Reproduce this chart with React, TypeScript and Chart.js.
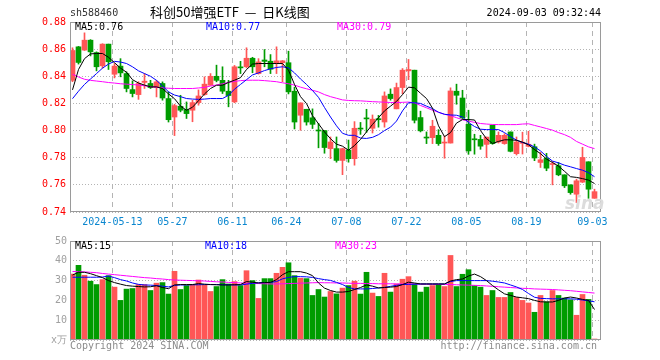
import React, { useEffect, useRef } from 'react';
import { Chart, registerables } from 'chart.js';

Chart.register(...registerables);

const dates = [
  '2024-04-29', '2024-04-30', '2024-05-06', '2024-05-07', '2024-05-08', '2024-05-09', '2024-05-10',
  '2024-05-13', '2024-05-14', '2024-05-15', '2024-05-16', '2024-05-17', '2024-05-20', '2024-05-21',
  '2024-05-22', '2024-05-23', '2024-05-24', '2024-05-27', '2024-05-28', '2024-05-29', '2024-05-30',
  '2024-05-31', '2024-06-03', '2024-06-04', '2024-06-05', '2024-06-06', '2024-06-07', '2024-06-11',
  '2024-06-12', '2024-06-13', '2024-06-14', '2024-06-17', '2024-06-18', '2024-06-19', '2024-06-20',
  '2024-06-21', '2024-06-24', '2024-06-25', '2024-06-26', '2024-06-27', '2024-06-28', '2024-07-01',
  '2024-07-02', '2024-07-03', '2024-07-04', '2024-07-05', '2024-07-08', '2024-07-09', '2024-07-10',
  '2024-07-11', '2024-07-12', '2024-07-15', '2024-07-16', '2024-07-17', '2024-07-18', '2024-07-19',
  '2024-07-22', '2024-07-23', '2024-07-24', '2024-07-25', '2024-07-26', '2024-07-29', '2024-07-30',
  '2024-07-31', '2024-08-01', '2024-08-02', '2024-08-05', '2024-08-06', '2024-08-07', '2024-08-08',
  '2024-08-09', '2024-08-12', '2024-08-13', '2024-08-14', '2024-08-15', '2024-08-16', '2024-08-19',
  '2024-08-20', '2024-08-21', '2024-08-22', '2024-08-23', '2024-08-26', '2024-08-27', '2024-08-28',
  '2024-08-29', '2024-08-30', '2024-09-02', '2024-09-03',
];

const opens = [
  0.837, 0.8617, 0.8593, 0.8666, 0.8575, 0.8477, 0.8637, 0.8415, 0.8475, 0.842,
  0.8302, 0.8265, 0.8355, 0.8347, 0.8317, 0.8347, 0.8236, 0.810, 0.8179, 0.8155,
  0.815, 0.8206, 0.8265, 0.8334, 0.840, 0.837, 0.829, 0.8211, 0.8467, 0.847,
  0.8533, 0.842, 0.852, 0.8511, 0.8499, 0.850, 0.850, 0.829, 0.8113, 0.8157,
  0.8094, 0.800, 0.800, 0.7867, 0.7867, 0.778, 0.7855, 0.7793, 0.8017, 0.809,
  0.8017, 0.8086, 0.8063, 0.8268, 0.816, 0.8317, 0.844, 0.8445, 0.8096, 0.7948,
  0.7948, 0.7965, 0.7908, 0.7908, 0.829, 0.824, 0.8046, 0.7935, 0.7935, 0.7898,
  0.8039, 0.7916, 0.7904, 0.799, 0.783, 0.7906, 0.7884, 0.7881, 0.7765, 0.7795,
  0.775, 0.7741, 0.7674, 0.760, 0.7531, 0.762, 0.777, 0.7501,
];
const highs = [
  0.861, 0.862, 0.872, 0.867, 0.858, 0.864, 0.8637, 0.8494, 0.853, 0.8433,
  0.8366, 0.836, 0.842, 0.837, 0.837, 0.8359, 0.8285, 0.8194, 0.826, 0.8211,
  0.8223, 0.830, 0.8396, 0.842, 0.8482, 0.847, 0.837, 0.848, 0.851, 0.861,
  0.854, 0.853, 0.8597, 0.856, 0.8617, 0.8516, 0.8585, 0.832, 0.8204, 0.8157,
  0.816, 0.8053, 0.800, 0.7953, 0.7953, 0.787, 0.793, 0.8066, 0.806, 0.8157,
  0.8115, 0.8112, 0.8285, 0.8307, 0.835, 0.8457, 0.8524, 0.8445, 0.8143, 0.799,
  0.8076, 0.8007, 0.796, 0.8315, 0.8342, 0.8297, 0.815, 0.7973, 0.7965, 0.7952,
  0.804, 0.799, 0.7977, 0.799, 0.7953, 0.7988, 0.7995, 0.790, 0.784, 0.7832,
  0.7773, 0.7765, 0.7674, 0.760, 0.7642, 0.7877, 0.777, 0.7568,
];
const lows = [
  0.836, 0.849, 0.859, 0.855, 0.844, 0.846, 0.845, 0.8388, 0.8396, 0.8285,
  0.8248, 0.823, 0.831, 0.831, 0.8248, 0.8224, 0.8063, 0.7963, 0.8138, 0.8089,
  0.8065, 0.8187, 0.826, 0.8334, 0.8359, 0.8273, 0.8175, 0.8205, 0.842, 0.8462,
  0.8426, 0.8416, 0.847, 0.842, 0.842, 0.836, 0.827, 0.8012, 0.8002, 0.804,
  0.8015, 0.7873, 0.7833, 0.7793, 0.7767, 0.7675, 0.7767, 0.7745, 0.7972, 0.7987,
  0.7982, 0.8025, 0.8025, 0.8224, 0.816, 0.8271, 0.8375, 0.8056, 0.799, 0.7904,
  0.7904, 0.7891, 0.7796, 0.7908, 0.8194, 0.8088, 0.7825, 0.7826, 0.7862, 0.7801,
  0.7899, 0.7908, 0.7899, 0.7843, 0.782, 0.7827, 0.788, 0.7778, 0.7728, 0.7704,
  0.760, 0.7667, 0.758, 0.7531, 0.7469, 0.7617, 0.7501, 0.7501,
];
const closes = [
  0.859, 0.8502, 0.8666, 0.858, 0.847, 0.8637, 0.8507, 0.8475, 0.8425, 0.831,
  0.8273, 0.8347, 0.8364, 0.8317, 0.8359, 0.824, 0.808, 0.8184, 0.815, 0.8125,
  0.8206, 0.8255, 0.8342, 0.840, 0.837, 0.829, 0.8258, 0.847, 0.8462, 0.8533,
  0.847, 0.8506, 0.851, 0.8452, 0.8514, 0.8514, 0.8285, 0.8063, 0.8204, 0.8063,
  0.8046, 0.7997, 0.7875, 0.7916, 0.778, 0.7867, 0.7793, 0.8017, 0.8011, 0.8086,
  0.8084, 0.808, 0.8255, 0.8236, 0.8317, 0.8445, 0.845, 0.8076, 0.7998, 0.7945,
  0.8032, 0.7904, 0.7913, 0.8292, 0.826, 0.8093, 0.785, 0.7932, 0.7885, 0.7952,
  0.7904, 0.7965, 0.7965, 0.7847, 0.7916, 0.7914, 0.7899, 0.7798, 0.7785, 0.7723,
  0.7755, 0.7674, 0.7593, 0.7543, 0.763, 0.7802, 0.7568, 0.755,
];

const ma5 = [
  0.830, 0.845, 0.853, 0.8565, 0.8568, 0.8568, 0.854, 0.850, 0.846, 0.843,
  0.8375, 0.835, 0.8335, 0.8322, 0.8322, 0.831, 0.827, 0.8235, 0.818, 0.815,
  0.8172, 0.822, 0.827, 0.831, 0.8334, 0.8334, 0.8355, 0.8371, 0.839, 0.845,
  0.849, 0.8494, 0.8494, 0.8494, 0.8494, 0.8494, 0.8445, 0.834, 0.825, 0.8199,
  0.811, 0.805, 0.799, 0.794, 0.790, 0.7885, 0.7855, 0.789, 0.7935, 0.799,
  0.8045, 0.8095, 0.8145, 0.818, 0.8215, 0.8265, 0.832, 0.8315, 0.8275, 0.8236,
  0.8165, 0.8035, 0.7955, 0.7985, 0.8055, 0.8081, 0.8081, 0.8078, 0.800, 0.794,
  0.7905, 0.792, 0.7932, 0.7932, 0.7928, 0.7915, 0.7895, 0.786, 0.783, 0.779,
  0.7765, 0.7738, 0.770, 0.766, 0.7655, 0.7646, 0.7635, 0.761,
];
const ma10 = [
  0.8235, 0.829, 0.834, 0.838, 0.842, 0.846, 0.849, 0.851, 0.8505, 0.8494,
  0.847, 0.844, 0.842, 0.840, 0.837, 0.833, 0.8285, 0.8262, 0.825, 0.8236,
  0.8232, 0.823, 0.8232, 0.8236, 0.8236, 0.8236, 0.826, 0.8305, 0.834, 0.8375,
  0.841, 0.8425, 0.8442, 0.8455, 0.8465, 0.847, 0.8462, 0.8425, 0.838, 0.834,
  0.8295, 0.8245, 0.817, 0.810, 0.8035, 0.798, 0.7965, 0.7965, 0.7945, 0.7942,
  0.795, 0.797, 0.800, 0.8025, 0.807, 0.8145, 0.8205, 0.8205, 0.820, 0.818,
  0.8162, 0.8135, 0.812, 0.8115, 0.8113, 0.810, 0.806, 0.803, 0.801, 0.8007,
  0.8007, 0.8007, 0.7985, 0.7955, 0.793, 0.7912, 0.790, 0.788, 0.785, 0.781,
  0.7775, 0.7762, 0.7745, 0.7733, 0.772, 0.7708, 0.769, 0.766,
];
const ma30 = [
  0.8415, 0.8395, 0.8378, 0.837, 0.8365, 0.836, 0.8354, 0.835, 0.8345, 0.8342,
  0.8339, 0.8336, 0.833, 0.8324, 0.8318, 0.8315, 0.8312, 0.831, 0.831, 0.831,
  0.831, 0.8314, 0.8318, 0.8328, 0.8336, 0.8345, 0.8355, 0.8362, 0.8368, 0.8371,
  0.8371, 0.8371, 0.8368, 0.8364, 0.836, 0.8352, 0.8345, 0.8335, 0.832, 0.8308,
  0.8297, 0.8285, 0.8265, 0.825, 0.8238, 0.8226, 0.8222, 0.822, 0.8219, 0.8216,
  0.8213, 0.8211, 0.8209, 0.8207, 0.8206, 0.8208, 0.821, 0.8204, 0.8185, 0.8168,
  0.815, 0.8135, 0.812, 0.811, 0.8095, 0.808, 0.807, 0.806, 0.8052, 0.8048,
  0.8045, 0.8044, 0.8044, 0.8044, 0.8044, 0.8048, 0.805, 0.8038, 0.8027, 0.8015,
  0.8003, 0.7985, 0.797, 0.795, 0.792, 0.790, 0.788, 0.7867,
];

const volumes = [
  33.3, 37.7, 32.7, 29.7, 28, 30.5, 32.5, 26.7, 20, 25.7,
  26, 28, 28, 25, 28.7, 29, 23.2, 34.7, 25.5, 27.5,
  27.8, 30.3, 27.7, 24.5, 27, 30.5, 28.3, 29.5, 27.5, 35,
  30, 21, 31, 31, 33.7, 36.7, 39, 32.5, 31.2, 31,
  22.5, 25.5, 21.7, 24.5, 23.3, 26.2, 27.5, 29.7, 23.2, 34.2,
  23.7, 22, 33.7, 24.2, 28.3, 30.7, 32, 28.3, 24.2, 26.7,
  27.5, 28, 27, 42.7, 27, 33.2, 35.5, 27.5, 26.7, 22.5,
  25, 21.5, 21.5, 24, 21.5, 20, 18.7, 14, 22.5, 19.3,
  25, 22.5, 21.2, 20.3, 12.5, 23, 20.5, 0.5,
];
const volMa5 = [
  32.8, 34.2, 34.2, 33.5, 32.5, 31.5, 30, 29, 28.2, 27.5,
  27.2, 27, 26.8, 26.9, 27.4, 26.5, 25.9, 27.8, 28, 28,
  28, 28.5, 28.2, 28, 27.9, 27.8, 27.8, 27.9, 28, 29.5,
  29.2, 28.8, 29, 29.1, 30.5, 33, 34.5, 34.5, 34.5, 33.8,
  32.5, 28.8, 26.2, 25, 24.2, 24.2, 24.5, 25.5, 26.5, 27.8,
  27.2, 26.3, 26.5, 26.7, 27, 28, 29.2, 28.8, 28.3, 28.3,
  28.3, 28.3, 28.3, 29.8, 30.5, 30.8, 32.3, 33.3, 32, 30,
  27.5, 25.3, 23.3, 22.5, 21.7, 21.3, 20.9, 20, 19.3, 19.2,
  19.2, 20, 21.2, 21.7, 21.2, 20.5, 20, 15.4,
];
const volMa10 = [
  31.7, 31.7, 31.7, 31.7, 31.7, 31.8, 32.3, 31.5, 30.5, 29.8,
  28.8, 28.1, 27.8, 27.7, 27.5, 27.2, 26.8, 27.6, 27.8, 27.8,
  27.9, 27.9, 28, 28, 28, 27.9, 27.9, 27.8, 27.8, 28.2,
  28.6, 28.9, 29, 29.1, 29.5, 30.9, 31.6, 32, 32, 31.9,
  31.6, 31, 30.5, 30.1, 29.1, 28, 26.5, 25.8, 25.8, 25.8,
  26, 26.3, 26.6, 27.1, 27.6, 28, 28.1, 28.2, 28.3, 28.3,
  28.3, 28.3, 28.3, 29.5, 30, 30, 30, 30, 30, 30,
  29.7, 29.3, 28.8, 27.8, 26.8, 25.5, 23.5, 21.6, 21, 20.9,
  20.8, 20.8, 20.8, 20.8, 20.6, 20.2, 19.8, 19.3,
];
const volMa30 = [
  34.6, 34.5, 34.4, 34.2, 34, 33.6, 33.3, 33, 32.7, 32.4,
  32.1, 31.8, 31.5, 31.3, 31, 30.8, 30.5, 30.3, 30.2, 30.1,
  30, 29.9, 29.8, 29.6, 29.4, 29.3, 29.1, 29, 28.8, 28.7,
  28.6, 28.5, 28.4, 28.3, 28.3, 28.4, 28.5, 28.6, 28.7, 28.8,
  28.9, 29, 28.9, 28.9, 28.8, 28.8, 28.7, 28.6, 28.6, 28.5,
  28.5, 28.4, 28.4, 28.4, 28.3, 28.3, 28.3, 28.3, 28.2, 28.2,
  28.1, 28.1, 28, 28, 27.9, 27.8, 27.7, 27.6, 27.5, 27.3,
  27.1, 26.9, 26.7, 26.5, 26.3, 26.1, 26, 25.8, 25.7, 25.6,
  25.5, 25.3, 25.1, 24.9, 24.6, 24.3, 24, 23.7,
];

const tickDates = ['2024-05-13', '2024-05-27', '2024-06-11', '2024-06-24', '2024-07-08', '2024-07-22', '2024-08-05', '2024-08-19', '2024-09-03'];
const tickLabels = ['2024-05-13', '05-27', '06-11', '06-24', '07-08', '07-22', '08-05', '08-19', '09-03'];
const priceTicks = [0.74, 0.76, 0.78, 0.80, 0.82, 0.84, 0.86, 0.88];
const volumeTicks = [0, 10, 20, 30, 40, 50];

const RED = '#ff5656';
const GREEN = '#009c00';
const MONO = '"DejaVu Sans Mono", "Liberation Mono", monospace';

const framePlugin = {
  id: 'frame',
  afterDraw(chart: any) {
    const { ctx, chartArea: a } = chart;
    ctx.save();
    ctx.strokeStyle = '#9a9a9a';
    ctx.lineWidth = 1;
    ctx.setLineDash([]);
    ctx.strokeRect(a.left + 0.5, a.top + 0.5, a.right - a.left - 1, a.bottom - a.top - 1);
    ctx.restore();
  },
};

function makeX(showLabels: boolean) {
  const tickIdx = tickDates.map((d) => dates.indexOf(d));
  return {
    type: 'linear',
    min: -0.4167,
    max: 88.0833,
    offset: false,
    afterBuildTicks: (s: any) => {
      s.ticks = tickIdx.map((v) => ({ value: v - 0.35 }));
    },
    afterFit: (s: any) => {
      s.height = 20;
    },
    grid: { display: true, offset: false, color: '#b4b4b4', lineWidth: 1, drawTicks: false },
    border: { display: false, dash: [5, 4] },
    ticks: {
      display: showLabels,
      autoSkip: false,
      maxRotation: 0,
      minRotation: 0,
      padding: 4,
      color: '#0a86cf',
      font: { family: MONO, size: 10 },
      callback: (_v: any, i: number) => tickLabels[i],
    },
  };
}

export default function App() {
  const priceRef = useRef<HTMLCanvasElement>(null);
  const volRef = useRef<HTMLCanvasElement>(null);

  useEffect(() => {
    const idx = dates.map((_, i) => i);
    const colors = idx.map((i) => (closes[i] >= opens[i] ? RED : GREEN));
    const line = (vals: number[], color: string) => ({
      type: 'line',
      data: idx.map((i) => ({ x: i, y: vals[i] })),
      borderColor: color,
      borderWidth: 1,
      pointRadius: 0,
      tension: 0,
      fill: false,
      order: 0,
    });

    const priceChart = new Chart(priceRef.current as HTMLCanvasElement, {
      type: 'bar',
      data: {
        datasets: [
          {
            type: 'bar',
            data: idx.map((i) => ({ x: i, y: [lows[i], highs[i]] })),
            backgroundColor: colors,
            borderWidth: 0,
            barThickness: 1,
            grouped: false,
            minBarLength: 1,
            order: 2,
          },
          {
            type: 'bar',
            data: idx.map((i) => ({ x: i, y: [opens[i], closes[i]] })),
            backgroundColor: colors,
            borderWidth: 0,
            barThickness: 5,
            grouped: false,
            minBarLength: 1,
            order: 1,
          },
          line(ma5, '#000000'),
          line(ma10, '#0000ff'),
          line(ma30, '#ff00ff'),
        ] as any,
      },
      options: {
        responsive: false,
        maintainAspectRatio: false,
        animation: false,
        events: [],
        layout: { padding: { top: 22, right: 59, left: 0, bottom: 0 } },
        plugins: { legend: { display: false }, tooltip: { enabled: false } },
        scales: {
          x: makeX(true) as any,
          y: {
            type: 'linear',
            position: 'left',
            min: 0.74,
            max: 0.88,
            afterBuildTicks: (s: any) => {
              s.ticks = priceTicks.map((v) => ({ value: v }));
            },
            afterFit: (s: any) => {
              s.width = 70;
            },
            grid: { color: '#b4b4b4', lineWidth: 1, drawTicks: false },
            border: { display: false, dash: [1, 2] },
            ticks: {
              color: '#ff0000',
              padding: 4,
              font: { family: MONO, size: 10 },
              callback: (v: any) => Number(v).toFixed(2),
            },
          },
        },
      },
      plugins: [framePlugin],
    });

    const volChart = new Chart(volRef.current as HTMLCanvasElement, {
      type: 'bar',
      data: {
        datasets: [
          {
            type: 'bar',
            data: idx.map((i) => ({ x: i, y: volumes[i] })),
            backgroundColor: colors,
            borderWidth: 0,
            barThickness: 5,
            grouped: false,
            order: 1,
          },
          line(volMa5, '#000000'),
          line(volMa10, '#0000ff'),
          line(volMa30, '#ff00ff'),
        ] as any,
      },
      options: {
        responsive: false,
        maintainAspectRatio: false,
        animation: false,
        events: [],
        layout: { padding: { top: 8, right: 59, left: 0, bottom: 0 } },
        plugins: { legend: { display: false }, tooltip: { enabled: false } },
        scales: {
          x: makeX(false) as any,
          y: {
            type: 'linear',
            position: 'left',
            min: 0,
            max: 50,
            afterBuildTicks: (s: any) => {
              s.ticks = volumeTicks.map((v) => ({ value: v }));
            },
            afterFit: (s: any) => {
              s.width = 70;
            },
            grid: { color: '#b4b4b4', lineWidth: 1, drawTicks: false },
            border: { display: false, dash: [1, 2] },
            ticks: {
              color: '#a0a0a0',
              padding: 3,
              font: { family: MONO, size: 10 },
              callback: (v: any) => (Number(v) === 0 ? 'x万' : String(v)),
            },
          },
        },
      },
      plugins: [framePlugin],
    });

    return () => {
      priceChart.destroy();
      volChart.destroy();
    };
  }, []);

  const t = (left: number, top: number, color: string, extra: any = {}) => ({
    position: 'absolute' as const,
    left,
    top,
    color,
    font: `10px ${MONO}`,
    lineHeight: '12px',
    whiteSpace: 'pre' as const,
    ...extra,
  });

  return (
    <div style={{ position: 'fixed', left: 0, top: 0, width: 660, height: 360, background: '#fff', overflow: 'hidden' }}>
      <canvas ref={priceRef} width={660} height={232} style={{ position: 'absolute', left: 0, top: 0, width: 660, height: 232 }} />
      <canvas ref={volRef} width={660} height={128} style={{ position: 'absolute', left: 0, top: 232, width: 660, height: 128 }} />

      <div style={t(70, 7, '#333')}>sh588460</div>
      <div style={t(150, 4, '#000', { font: '13px "Noto Sans CJK SC", sans-serif', lineHeight: '16px' })}>科创50增强ETF  —  日K线图</div>
      <div style={t(0, 7, '#000', { left: 'auto', right: 59 })}>2024-09-03 09:32:44</div>

      <div style={t(75, 21, '#000')}>MA5:0.76</div>
      <div style={t(206, 21, '#0000ff')}>MA10:0.77</div>
      <div style={t(337, 21, '#ff00ff')}>MA30:0.79</div>

      <div style={t(565, 193, '#dcdcdc', { font: 'italic bold 17px "DejaVu Sans", sans-serif', lineHeight: '20px' })}>sina</div>

      <div style={t(75, 240, '#000')}>MA5:15</div>
      <div style={t(205, 240, '#0000ff')}>MA10:18</div>
      <div style={t(335, 240, '#ff00ff')}>MA30:23</div>

      <div style={t(70, 340, '#8c8c8c')}>Copyright 2024 SINA.COM</div>
      <div style={t(0, 340, '#8c8c8c', { left: 'auto', right: 63 })}>http://finance.sina.com.cn</div>
    </div>
  );
}
